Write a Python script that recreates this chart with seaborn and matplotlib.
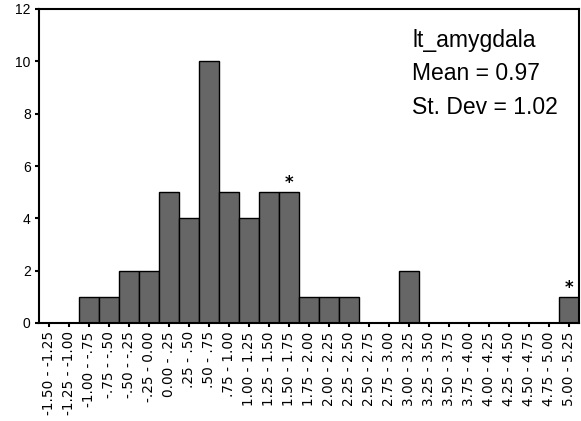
import matplotlib
matplotlib.use("Agg")
import matplotlib.pyplot as plt
import seaborn as sns
import pandas as pd

# bin labels (width .25) and counts
bins = ["-1.50 - -1.25", "-1.25 - -1.00", "-1.00 - -.75", "-.75 - -.50", "-.50 - -.25",
        "-.25 - 0.00", "0.00 - .25", ".25 - .50", ".50 - .75", ".75 - 1.00",
        "1.00 - 1.25", "1.25 - 1.50", "1.50 - 1.75", "1.75 - 2.00", "2.00 - 2.25",
        "2.25 - 2.50", "2.50 - 2.75", "2.75 - 3.00", "3.00 - 3.25", "3.25 - 3.50",
        "3.50 - 3.75", "3.75 - 4.00", "4.00 - 4.25", "4.25 - 4.50", "4.50 - 4.75",
        "4.75 - 5.00", "5.00 - 5.25"]
counts = [0, 0, 1, 1, 2, 2, 5, 4, 10, 5, 4, 5, 5, 1, 1, 1, 0, 0, 2, 0, 0, 0, 0, 0, 0, 0, 1]
starred = ["1.50 - 1.75", "5.00 - 5.25"]   # bins marked with *
stats = ["lt_amygdala", "Mean = 0.97", "St. Dev = 1.02"]

df = pd.DataFrame({"bin": bins, "n": counts})

sns.set_style("ticks")
plt.rcParams["font.family"] = ["Liberation Sans", "DejaVu Sans"]
plt.rcParams["text.color"] = "black"
plt.rcParams["xtick.color"] = "black"
plt.rcParams["ytick.color"] = "black"

W, H = 581, 421
fig = plt.figure(figsize=(W / 100, H / 100), dpi=100)
ax = fig.add_axes([39 / W, 98 / H, 540 / W, 314 / H])

sns.barplot(data=df, x="bin", y="n", color="#666666", saturation=1,
            edgecolor="black", linewidth=1, width=1.0, ax=ax)

for b in starred:
    i = bins.index(b)
    ax.annotate("*", (i, counts[i]), xytext=(0, 0), textcoords="offset points",
                ha="center", va="bottom", fontsize=12, fontweight="bold",
                family="DejaVu Sans")

ax.set_xlim(-0.5, len(bins) - 0.5)
ax.set_ylim(0, 12)
ax.set_yticks(range(0, 13, 2))
ax.set_xlabel("")
ax.set_ylabel("")
ax.tick_params(axis="x", labelrotation=90, length=3, width=1.5, pad=3)
ax.tick_params(axis="y", labelsize=10, length=3, width=1.5, pad=3)
for lab in ax.get_xticklabels():
    lab.set_family("DejaVu Sans")
    lab.set_fontsize(9.8)
for s in ax.spines.values():
    s.set_linewidth(1.5)
    s.set_color("black")

# stats block, one line per baseline
for k, line in enumerate(stats):
    fig.text(412 / W, 1 - (47 + 33.5 * k) / H, line, ha="left", va="baseline",
             fontsize=16.5)

fig.savefig("out.png", dpi=100)
